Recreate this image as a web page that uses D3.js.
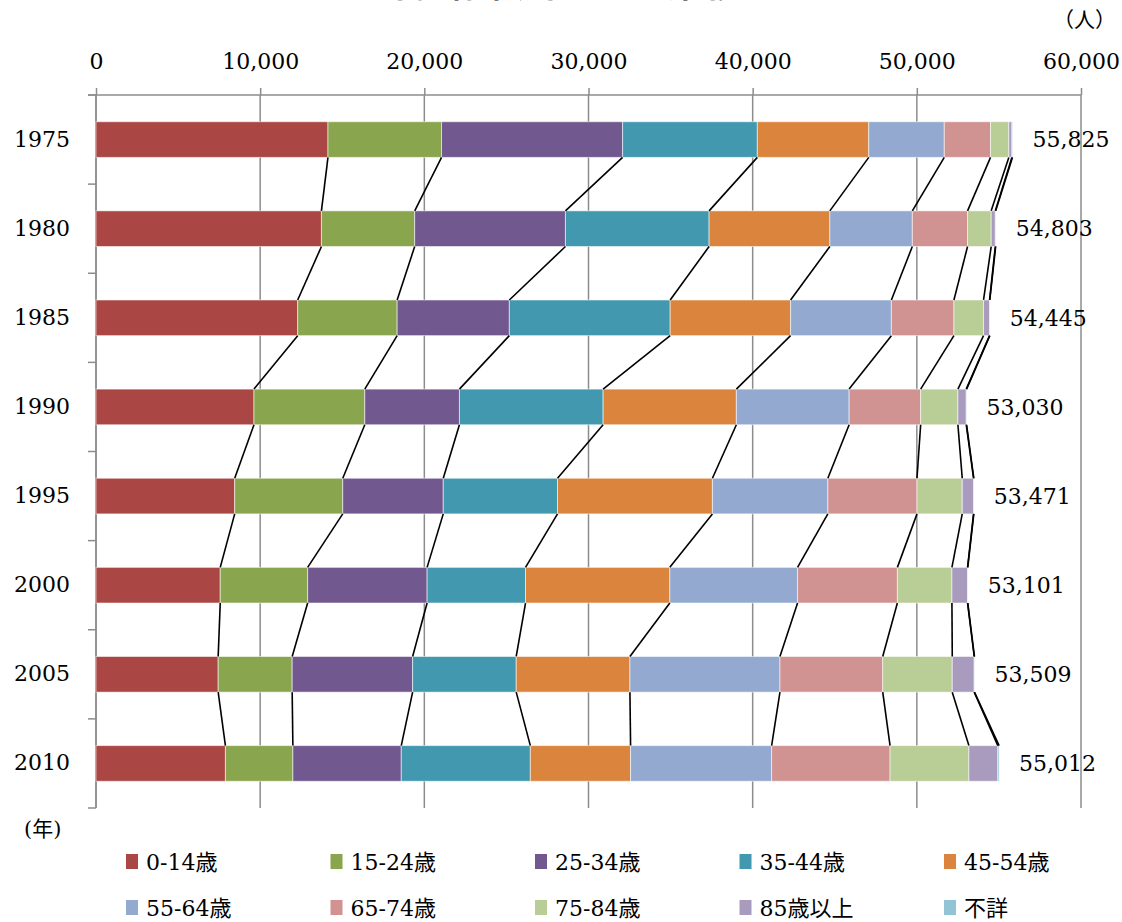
<!DOCTYPE html>
<html>
<head>
<meta charset="utf-8">
<script src="https://cdn.jsdelivr.net/npm/d3@7"></script>
<style>
  body { margin: 0; background: #fff; }
  svg { display: block; }
  text { font-family: "DejaVu Serif", "Noto Sans CJK JP", serif; fill: #000; }
</style>
</head>
<body>
<div id="chart"></div>
<script>
// data: population by age group, by census year
var years = ["1975", "1980", "1985", "1990", "1995", "2000", "2005", "2010"];
var groups = ["0-14歳", "15-24歳", "25-34歳", "35-44歳", "45-54歳",
              "55-64歳", "65-74歳", "75-84歳", "85歳以上", "不詳"];

var age0_14   = [14130, 13732, 12285, 9623, 8449, 7568, 7442, 7883];
var age15_24  = [6918, 5681, 6059, 6750, 6582, 5325, 4508, 4109];
var age25_34  = [11029, 9182, 6834, 5765, 6122, 7275, 7337, 6603];
var age35_44  = [8207, 8750, 9797, 8752, 6960, 5996, 6310, 7862];
var age45_54  = [6788, 7356, 7335, 8117, 9435, 8790, 6926, 6106];
var age55_64  = [4600, 5025, 6140, 6869, 7031, 7781, 9139, 8592];
var age65_74  = [2816, 3364, 3809, 4357, 5431, 6080, 6261, 7214];
var age75_84  = [1115, 1439, 1804, 2269, 2756, 3323, 4235, 4802];
var age85plus = [187, 251, 367, 508, 689, 952, 1337, 1763];
var unknown   = [35, 23, 15, 20, 16, 11, 14, 78];
var totals    = [55825, 54803, 54445, 53030, 53471, 53101, 53509, 55012];

var xTicks = [0, 10000, 20000, 30000, 40000, 50000, 60000];

var colors = ["#AA4643", "#89A54E", "#71588F", "#4198AF", "#DB843D",
              "#93A9CF", "#D19392", "#B9CD96", "#A99BBD", "#92C4D6"];

var series = [age0_14, age15_24, age25_34, age35_44, age45_54,
              age55_64, age65_74, age75_84, age85plus, unknown];

var serif = "'DejaVu Serif', 'Noto Sans CJK JP', serif";

// set the dimensions and margins of the graph
var W = 1122, H = 922;
var margin = { top: 95, right: 41, bottom: 114, left: 96 },
    width = W - margin.left - margin.right,
    height = H - margin.top - margin.bottom;

var svg = d3.select("#chart").append("svg")
    .attr("width", W)
    .attr("height", H);

var g = svg.append("g")
    .attr("transform", "translate(" + margin.left + "," + margin.top + ")");

var scalex = d3.scaleLinear().domain([0, 60000]).range([0, width]);
var scaley = d3.scaleBand().domain(years).range([0, height]).paddingInner(0.6).paddingOuter(0.3);

// rows for the stack
var rows = years.map(function (yr, i) {
    var r = { year: yr };
    groups.forEach(function (grp, k) { r[grp] = series[k][i]; });
    return r;
});
var stacked = d3.stack().keys(groups)(rows);

var gridColor = "#8c8c8c";

// vertical grid lines
g.append("g").selectAll("line")
    .data(xTicks).enter().append("line")
    .attr("x1", function (d) { return scalex(d); })
    .attr("x2", function (d) { return scalex(d); })
    .attr("y1", 0).attr("y2", height)
    .attr("stroke", gridColor).attr("stroke-width", 1.5);

// top axis
var xAxis = g.append("g")
    .call(d3.axisTop(scalex).tickValues(xTicks).tickFormat(d3.format(",")).tickSize(7).tickSizeOuter(0));
xAxis.select(".domain").remove();
xAxis.selectAll(".tick line").attr("stroke", gridColor).attr("stroke-width", 1.5);
xAxis.selectAll(".tick text")
    .attr("y", -26)
    .style("font-size", "22px")
    .style("font-family", serif);
g.append("line")
    .attr("x1", -8).attr("x2", scalex(60000))
    .attr("y1", 0).attr("y2", 0)
    .attr("stroke", gridColor).attr("stroke-width", 1.5);

// left axis: line, ticks at band boundaries, year labels
g.append("line")
    .attr("x1", 0).attr("x2", 0)
    .attr("y1", 0).attr("y2", height)
    .attr("stroke", gridColor).attr("stroke-width", 1.5);
var bounds = years.map(function (d) { return scaley(d) - scaley.step() * scaley.paddingInner() / 2; });
bounds.push(height);
g.append("g").selectAll("line")
    .data(bounds).enter().append("line")
    .attr("x1", -8).attr("x2", 0)
    .attr("y1", function (d) { return d; })
    .attr("y2", function (d) { return d; })
    .attr("stroke", gridColor).attr("stroke-width", 1.5);

var yAxis = g.append("g")
    .call(d3.axisLeft(scaley).tickSize(0).tickPadding(26));
yAxis.select(".domain").remove();
yAxis.selectAll(".tick text")
    .style("font-size", "22px")
    .style("font-family", serif);

// stacked bars
var layers = g.append("g").selectAll("g")
    .data(stacked).enter().append("g")
    .attr("fill", function (d, i) { return colors[i]; });

layers.selectAll("rect")
    .data(function (d) { return d; })
    .enter().append("rect")
    .attr("x", function (d) { return scalex(d[0]); })
    .attr("y", function (d) { return scaley(d.data.year); })
    .attr("width", function (d) { return scalex(d[1]) - scalex(d[0]); })
    .attr("height", scaley.bandwidth())
    .attr("stroke", "#fff")
    .attr("stroke-opacity", 0.55)
    .attr("stroke-width", 1);

// series lines joining segment ends between bars
var links = [];
stacked.forEach(function (s) {
    for (var j = 0; j < s.length - 1; j++) {
        links.push({ a: s[j], b: s[j + 1] });
    }
});
g.append("g").selectAll("line")
    .data(links).enter().append("line")
    .attr("x1", function (d) { return scalex(d.a[1]); })
    .attr("y1", function (d) { return scaley(d.a.data.year) + scaley.bandwidth(); })
    .attr("x2", function (d) { return scalex(d.b[1]); })
    .attr("y2", function (d) { return scaley(d.b.data.year); })
    .attr("stroke", "#000")
    .attr("stroke-width", 1.6);

// total labels
g.append("g").selectAll("text")
    .data(years).enter().append("text")
    .attr("x", function (d, i) { return scalex(totals[i]) + 20; })
    .attr("y", function (d) { return scaley(d) + scaley.bandwidth() / 2; })
    .attr("dy", "0.35em")
    .style("font-size", "22px")
    .style("font-family", serif)
    .text(function (d, i) { return d3.format(",")(totals[i]); });

// unit labels
svg.append("text")
    .attr("x", 1116).attr("y", 27)
    .attr("text-anchor", "end")
    .style("font-size", "21px")
    .style("font-family", "Noto Sans CJK JP")
    .text("（人）");

svg.append("text")
    .attr("x", 24).attr("y", 836)
    .style("font-size", "21px")
    .style("font-family", serif)
    .text("(年)");

// title, mostly above the top edge as in the original
svg.append("text")
    .attr("x", 560).attr("y", -3)
    .attr("text-anchor", "middle")
    .style("font-size", "36px")
    .style("font-family", "Noto Sans CJK JP")
    .style("font-weight", "bold")
    .text("【年齢階級別人口の推移】");

// legend
var legend = svg.append("g").selectAll("g")
    .data(groups).enter().append("g")
    .attr("transform", function (d, i) {
        return "translate(" + (126 + (i % 5) * 204.5) + "," + (862 + Math.floor(i / 5) * 46) + ")";
    });
legend.append("rect")
    .attr("x", 0).attr("y", -8)
    .attr("width", 12).attr("height", 15)
    .attr("fill", function (d, i) { return colors[i]; });
legend.append("text")
    .attr("x", 20).attr("y", 0)
    .attr("dy", "0.35em")
    .style("font-size", "22px")
    .style("font-family", serif)
    .text(function (d) { return d; });
</script>
</body>
</html>
